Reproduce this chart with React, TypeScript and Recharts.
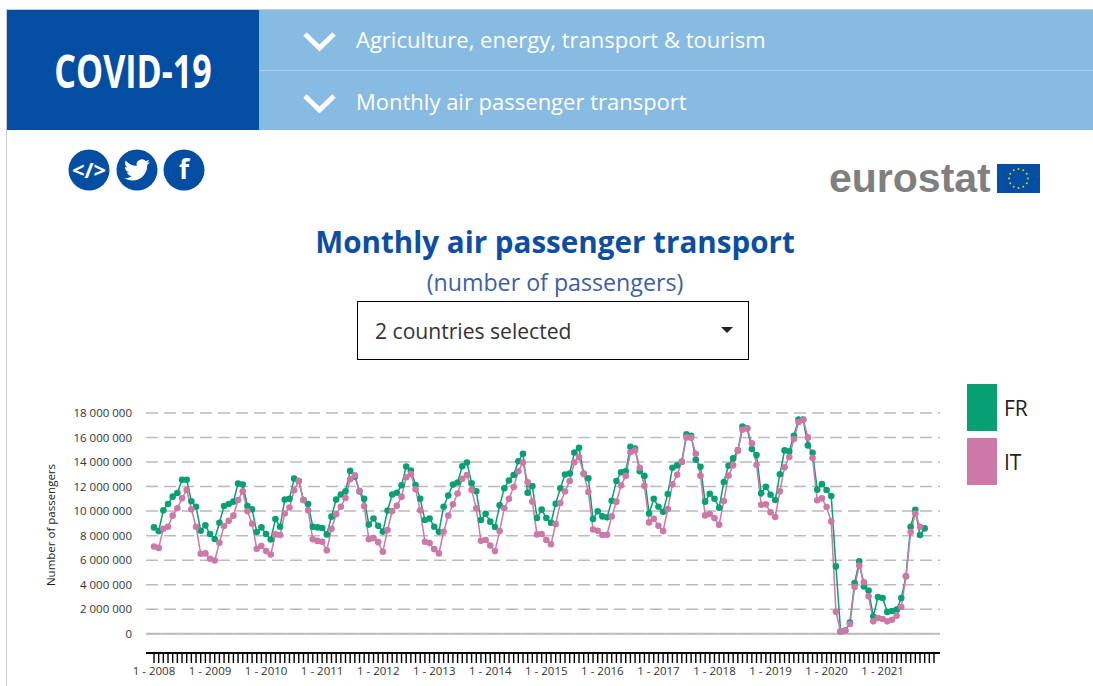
import React from 'react';
import { LineChart, Line, XAxis, YAxis, CartesianGrid, ReferenceLine, Legend } from 'recharts';

const years = [2008, 2009, 2010, 2011, 2012, 2013, 2014, 2015, 2016, 2017, 2018, 2019, 2020, 2021];
const months = [1, 2, 3, 4, 5, 6, 7, 8, 9, 10, 11, 12];
const yTicks = [0, 2, 4, 6, 8, 10, 12, 14, 16, 18];

// millions of passengers, one row per year
const frValues = [
  8.67, 8.37, 10.06, 10.58, 11.18, 11.48, 12.55, 12.55, 10.8, 10.36, 8.4, 8.84,
  8.13, 7.72, 9.05, 10.42, 10.58, 10.77, 12.25, 12.16, 10.42, 10.15, 8.3, 8.67,
  8.13, 7.69, 9.35, 8.73, 10.94, 11.0, 12.65, 12.46, 10.9, 10.58, 8.73, 8.67,
  8.62, 8.1, 9.55, 10.94, 11.35, 11.62, 13.28, 12.8, 11.6, 11.0, 8.9, 9.4,
  8.8, 8.33, 10.04, 11.35, 11.5, 12.1, 13.64, 13.3, 12.13, 11.0, 9.27, 9.4,
  8.73, 8.32, 10.36, 11.27, 12.16, 12.33, 13.66, 13.96, 12.27, 11.62, 9.27, 9.79,
  9.14, 8.7, 10.47, 11.86, 12.5, 12.95, 14.07, 14.67, 11.5, 12.05, 9.44, 10.12,
  9.44, 9.05, 10.6, 11.86, 12.98, 13.06, 14.78, 15.16, 13.04, 12.68, 9.35, 9.98,
  9.57, 9.49, 10.85, 12.46, 13.17, 13.25, 15.25, 15.1, 13.25, 12.87, 9.8, 11.0,
  10.36, 9.95, 11.39, 13.54, 13.73, 14.03, 16.26, 16.15, 14.19, 13.62, 10.77, 11.42,
  11.01, 10.28, 12.37, 13.7, 14.3, 14.95, 16.9, 16.75, 15.06, 14.57, 11.45, 11.99,
  11.34, 10.9, 13.0, 14.95, 14.87, 16.15, 17.46, 17.46, 15.36, 14.76, 11.75, 12.2,
  11.72, 11.23, 5.49, 0.19, 0.27, 0.92, 4.13, 5.9, 3.86, 3.53, 1.41, 2.99,
  2.91, 1.77, 1.85, 1.98, 2.91, 4.68, 8.73, 10.11, 8.05, 8.59, null, null,
];

const itValues = [
  7.12, 7.0, 8.56, 8.73, 9.63, 10.23, 11.05, 11.73, 10.15, 8.73, 6.52, 6.55,
  6.11, 5.97, 7.42, 8.78, 9.22, 9.63, 10.9, 11.62, 10.0, 8.97, 6.93, 7.15,
  6.74, 6.46, 8.1, 8.05, 9.8, 10.3, 11.7, 12.46, 10.9, 10.06, 7.7, 7.57,
  7.5, 6.8, 8.56, 9.74, 10.36, 11.07, 12.6, 12.93, 11.65, 10.4, 7.7, 7.8,
  7.47, 6.68, 8.46, 10.0, 10.43, 11.18, 12.76, 13.03, 11.78, 10.06, 7.5, 7.39,
  6.9, 6.55, 8.32, 9.63, 10.55, 11.43, 12.63, 12.95, 11.73, 10.23, 7.58, 7.64,
  7.2, 6.74, 8.37, 10.23, 11.0, 11.97, 13.25, 13.96, 12.35, 10.77, 8.1, 8.13,
  7.64, 7.3, 8.95, 10.66, 11.6, 12.46, 13.99, 14.4, 13.04, 11.56, 8.5, 8.4,
  8.05, 8.07, 9.57, 10.77, 12.1, 12.87, 14.8, 14.95, 13.53, 12.05, 9.08, 9.38,
  8.8, 8.37, 10.17, 12.18, 12.97, 14.03, 16.01, 15.99, 14.68, 12.89, 9.65, 9.76,
  9.43, 8.89, 10.82, 12.89, 13.73, 14.95, 16.64, 16.75, 15.52, 13.78, 10.52, 10.55,
  9.9, 9.52, 11.61, 13.57, 14.41, 15.88, 17.27, 17.46, 16.01, 14.33, 10.88, 11.04,
  10.33, 9.16, 1.79, 0.19, 0.27, 0.79, 3.81, 5.57, 4.19, 3.05, 1.01, 1.28,
  1.2, 1.01, 1.14, 1.47, 2.18, 4.68, 8.29, 9.81, 8.73, null, null, null,
];

const categories = years.flatMap((y) => months.map((m) => `${m} - ${y}`));
const data = categories.map((period, i) => ({ period, FR: frValues[i], IT: itValues[i] }));

const FONT = '"Open Sans", sans-serif';
const DARK_BLUE = '#034ea2';
const LIGHT_BLUE = '#88bbe2';
const GREEN = '#07a073';
const PINK = '#cc79a7';

const formatMillions = (v: number) =>
  v === 0 ? '0' : `${v} 000 000`;

const MonthTick = ({ x, y, payload }: any) => {
  if (!String(payload.value).startsWith('1 - ')) return <g />;
  return (
    <text x={x} y={y + 10} textAnchor="middle" fontFamily={FONT} fontSize={11.5} fill="#333">
      {payload.value}
    </text>
  );
};

const LegendBox = ({ payload }: any) => (
  <div>
    {(payload || []).map((entry: any) => (
      <div key={entry.value} style={{ display: 'flex', alignItems: 'center', height: 47, marginBottom: 7 }}>
        <div style={{ width: 30, height: 47, background: entry.color }} />
        <span style={{ marginLeft: 7, fontFamily: FONT, fontSize: 21, color: '#222' }}>{entry.value}</span>
      </div>
    ))}
  </div>
);

const Chevron = ({ top }: { top: number }) => (
  <svg style={{ position: 'absolute', left: 302, top }} width="35" height="23">
    <polyline points="3,3 17.5,17 32,3" fill="none" stroke="#fff" strokeWidth="5" />
  </svg>
);

const Round = ({ left, children }: { left: number; children: React.ReactNode }) => (
  <svg style={{ position: 'absolute', left, top: 149 }} width="42" height="42" viewBox="0 0 42 42">
    <circle cx="21" cy="21" r="20.5" fill={DARK_BLUE} />
    {children}
  </svg>
);

const flagStars = [0, 30, 60, 90, 120, 150, 180, 210, 240, 270, 300, 330];

export default function App() {
  return (
    <div style={{ position: 'absolute', left: 0, top: 0, width: 1093, height: 686, overflow: 'hidden', background: '#fff', fontFamily: FONT }}>
      <div style={{ position: 'absolute', left: 6, top: 9, width: 1087, height: 1, background: '#ccc' }} />
      <div style={{ position: 'absolute', left: 6, top: 9, width: 1, height: 677, background: '#ccc' }} />

      <div style={{ position: 'absolute', left: 7, top: 10, width: 252, height: 120, background: DARK_BLUE }} />
      <div style={{ position: 'absolute', left: 7, top: 10, width: 252, height: 120, color: '#fff', textAlign: 'center', lineHeight: '120px', fontWeight: 700, fontSize: 46, transform: 'scaleX(0.74)', whiteSpace: 'nowrap' }}>
        COVID-19
      </div>
      <div style={{ position: 'absolute', left: 259, top: 10, width: 834, height: 120, background: LIGHT_BLUE }} />
      <div style={{ position: 'absolute', left: 259, top: 70, width: 834, height: 1, background: '#a9cfec' }} />
      <Chevron top={31} />
      <Chevron top={93} />
      <div style={{ position: 'absolute', left: 356, top: 24, color: '#fff', fontSize: 22, lineHeight: '30px', whiteSpace: 'nowrap' }}>
        Agriculture, energy, transport &amp; tourism
      </div>
      <div style={{ position: 'absolute', left: 356, top: 86, color: '#fff', fontSize: 22, lineHeight: '30px', whiteSpace: 'nowrap' }}>
        Monthly air passenger transport
      </div>

      <Round left={68}>
        <text x="21" y="28.5" textAnchor="middle" fill="#fff" fontFamily={FONT} fontWeight={700} fontSize="22">&lt;/&gt;</text>
      </Round>
      <Round left={116}>
        <g transform="translate(8,8) scale(1.08)">
          <path fill="#fff" d="M23.953 4.57a10 10 0 01-2.825.775 4.958 4.958 0 002.163-2.723c-.951.555-2.005.959-3.127 1.184a4.92 4.92 0 00-8.384 4.482C7.69 8.095 4.067 6.13 1.64 3.162a4.822 4.822 0 00-.666 2.475c0 1.71.87 3.213 2.188 4.096a4.904 4.904 0 01-2.228-.616v.06a4.923 4.923 0 003.946 4.827 4.996 4.996 0 01-2.212.085 4.936 4.936 0 004.604 3.417 9.867 9.867 0 01-6.102 2.105c-.39 0-.779-.023-1.17-.067a13.995 13.995 0 007.557 2.209c9.053 0 13.998-7.496 13.998-13.985 0-.21 0-.42-.015-.63A9.935 9.935 0 0024 4.59z" />
        </g>
      </Round>
      <Round left={163}>
        <text x="21" y="30" textAnchor="middle" fill="#fff" fontFamily={FONT} fontWeight={700} fontSize="26">f</text>
      </Round>

      <div style={{ position: 'absolute', left: 829, top: 154, color: '#7f7f7f', fontFamily: '"Liberation Sans", sans-serif', fontWeight: 700, fontSize: 41, lineHeight: '48px' }}>
        eurostat
      </div>
      <svg style={{ position: 'absolute', left: 997, top: 164 }} width="43" height="29">
        <rect width="43" height="29" fill={DARK_BLUE} />
        {flagStars.map((a) => (
          <circle key={a} cx={21.5 + 9.5 * Math.cos((a * Math.PI) / 180)} cy={14.5 + 9.5 * Math.sin((a * Math.PI) / 180)} r="1" fill="#d8d020" />
        ))}
      </svg>

      <div style={{ position: 'absolute', left: 155, top: 221, width: 800, textAlign: 'center', color: '#0b4ea2', fontWeight: 700, fontSize: 29.6, lineHeight: '42px' }}>
        Monthly air passenger transport
      </div>
      <div style={{ position: 'absolute', left: 155, top: 267, width: 800, textAlign: 'center', color: '#3c5ea8', fontSize: 23.2, lineHeight: '30px' }}>
        (number of passengers)
      </div>
      <div style={{ position: 'absolute', left: 357, top: 301, width: 392, height: 59, boxSizing: 'border-box', border: '1px solid #000', paddingLeft: 17, color: '#333', fontSize: 21.1, lineHeight: '57px' }}>
        2 countries selected
      </div>
      <svg style={{ position: 'absolute', left: 721, top: 327 }} width="13" height="7">
        <polygon points="0,0 12,0 6,6" fill="#222" />
      </svg>

      <div style={{ position: 'absolute', left: 0, top: 0 }}>
        <LineChart width={1093} height={686} data={data} margin={{ top: 413, right: 153, bottom: 3, left: 0 }}>
          <CartesianGrid vertical={false} stroke="#bbb" strokeWidth={1.5} strokeDasharray="12 6" />
          <XAxis
            dataKey="period"
            interval={0}
            height={30}
            padding={{ left: 8, right: 6 }}
            tick={<MonthTick />}
            tickSize={10}
            tickLine={{ stroke: '#000', strokeWidth: 1.4 }}
            axisLine={{ stroke: '#000', strokeWidth: 2 }}
          />
          <YAxis
            width={146}
            domain={[-1.57, 18]}
            ticks={yTicks}
            interval={0}
            tickFormatter={formatMillions}
            tickLine={false}
            axisLine={false}
            tickSize={0}
            tickMargin={14}
            tick={{ fontFamily: FONT, fontSize: 11.5, fill: '#333' }}
            label={{ value: 'Number of passengers', angle: -90, position: 'insideLeft', dx: 46, dy: -8, style: { fontFamily: FONT, fontSize: 11.5, fill: '#222', textAnchor: 'middle' } }}
          />
          <ReferenceLine y={0} stroke="#bbb" strokeWidth={2} />
          <Legend layout="vertical" align="center" verticalAlign="middle" content={<LegendBox />} wrapperStyle={{ position: 'absolute', left: 967, top: 384, width: 100 }} />
          <Line dataKey="FR" name="FR" stroke={GREEN} strokeWidth={1.5} dot={{ r: 3.3, fill: GREEN, stroke: GREEN, strokeWidth: 0 }} isAnimationActive={false} />
          <Line dataKey="IT" name="IT" stroke={PINK} strokeWidth={1.5} dot={{ r: 3.3, fill: PINK, stroke: PINK, strokeWidth: 0 }} isAnimationActive={false} />
        </LineChart>
      </div>
    </div>
  );
}
